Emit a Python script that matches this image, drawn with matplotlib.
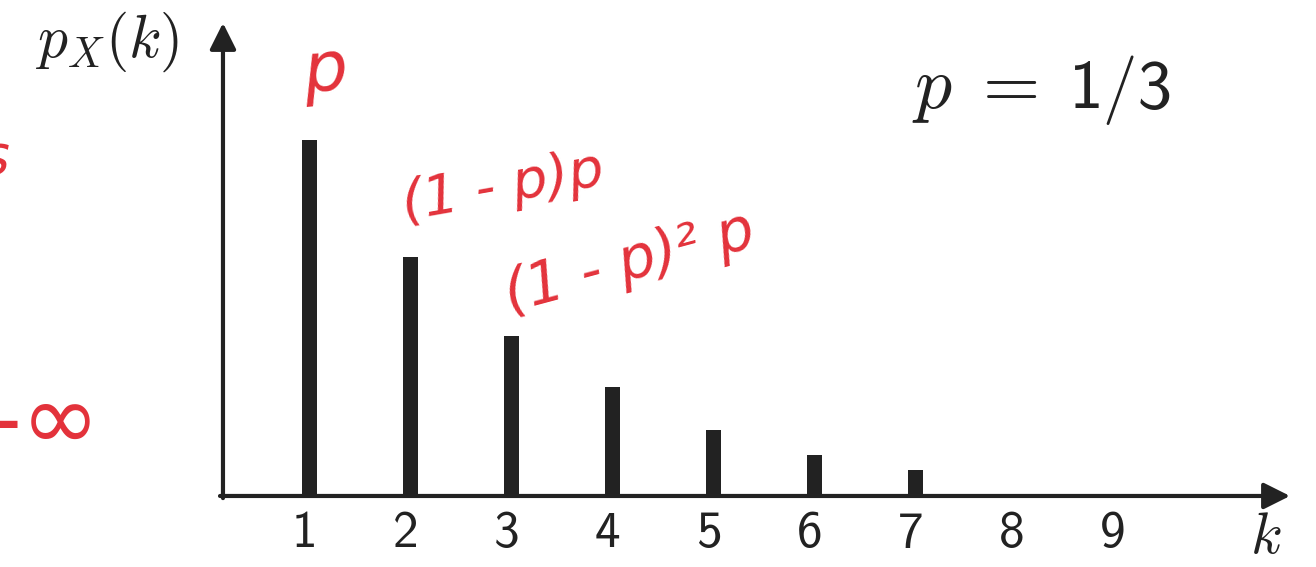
import matplotlib
matplotlib.use("Agg")
import matplotlib.pyplot as plt
from matplotlib.patches import FancyArrowPatch, ArrowStyle

plt.rcParams['mathtext.fontset'] = 'cm'

# ---- data ----
k_values = [1, 2, 3, 4, 5, 6, 7]
pmf_values = [0.3333, 0.2241, 0.1498, 0.1018, 0.0614, 0.0388, 0.0243]
tick_positions = [1, 2, 3, 4, 5, 6, 7, 8, 9]
tick_labels = ['1', '2', '3', '4', '5', '6', '7', '8', '9']
param_lhs = r'$p\;=$'
param_rhs = '1/3'
y_label = r'$p_X(k)$'
x_label = r'$k$'
notes = ['p', '(1 - p)p', '(1 - p)\u00b2 p']

INK = '#222222'
RED = '#e3323b'
SANS = 'cmss10'

fig = plt.figure(figsize=(13.16, 5.67), dpi=100)
ax = fig.add_axes([0, 0, 1, 1])
ax.set_xlim(-2.064, 10.965)
ax.set_ylim(-0.0665, 0.4644)
ax.axis('off')

# bars
ax.bar(k_values, pmf_values, width=0.15, color=INK, zorder=2)

# axes with arrows
style = ArrowStyle('-|>', head_length=16, head_width=8)
ax.add_patch(FancyArrowPatch((0.114, 0), (10.708, 0), arrowstyle=style,
                             mutation_scale=1, lw=3.0, color=INK, zorder=3,
                             shrinkA=0, shrinkB=0))
ax.add_patch(FancyArrowPatch((0.1436, -0.002), (0.1436, 0.4429), arrowstyle=style,
                             mutation_scale=1, lw=3.0, color=INK, zorder=3,
                             shrinkA=0, shrinkB=0))

# tick labels
for pos, lab in zip(tick_positions, tick_labels):
    ax.text(pos - 0.05, -0.0478, lab, fontsize=37, family=SANS,
            ha='center', va='baseline', color=INK)

ax.text(-1.0, 0.4251, y_label, fontsize=43, ha='center', va='center', color=INK)
ax.text(10.47, -0.0384, x_label, fontsize=42, ha='center', va='center', color=INK)
ax.text(8.21, 0.3633, param_lhs, fontsize=53, ha='right', va='baseline', color=INK)
ax.text(8.52, 0.3633, param_rhs, fontsize=50, family=SANS, ha='left',
        va='baseline', color=INK)

# handwritten red annotations
ax.text(1.154, 0.397, notes[0], fontsize=50, ha='center', va='center',
        color=RED, style='oblique', rotation=5)
ax.text(2.917, 0.2893, notes[1], fontsize=40, ha='center', va='center',
        color=RED, style='oblique', rotation=10)
ax.text(4.173, 0.2182, notes[2], fontsize=42, ha='center', va='center',
        color=RED, style='oblique', rotation=15)
ax.text(-1.074, 0.0674, '-\u221e', fontsize=68, ha='right', va='center',
        color=RED)
ax.text(-2.12, 0.3165, 's', fontsize=40, ha='center', va='center',
        color=RED, style='oblique')

fig.savefig('out.png', dpi=100, facecolor='white')
